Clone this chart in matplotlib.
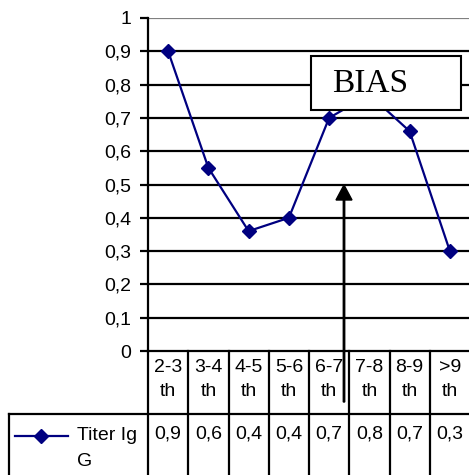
import matplotlib
matplotlib.use("Agg")
import matplotlib.pyplot as plt
from matplotlib.lines import Line2D
from matplotlib.patches import Rectangle, FancyArrow

plt.rcParams['font.family'] = ['Liberation Sans', 'DejaVu Sans']

# titer per age group
categories = ["2-3\nth", "3-4\nth", "4-5\nth", "5-6\nth", "6-7\nth", "7-8\nth", "8-9\nth", ">9\nth"]
titer = [0.90, 0.55, 0.36, 0.40, 0.70, 0.77, 0.66, 0.30]
series_name = "Titer Ig\nG"
yticks = [0, 0.1, 0.2, 0.3, 0.4, 0.5, 0.6, 0.7, 0.8, 0.9, 1.0]

W, H = 469, 475
NAVY = "#000080"
FS = 14


def fx(px):
    return px / W


def fy(py):
    return 1 - py / H


fig = plt.figure(figsize=(W / 100, H / 100), dpi=100)
# plot area in pixel terms: left 148, top 18, bottom 351, runs off the right edge
ax = fig.add_axes([fx(148), fy(351), fx(470) - fx(148), fy(18) - fy(351)])
x = list(range(len(categories)))
ax.set_xlim(-0.5, len(categories) - 0.5)
ax.set_ylim(0, 1)

for v in yticks[1:-1]:
    ax.axhline(v, color="black", lw=1.6, zorder=1)
ax.axhline(1.0, color="#808080", lw=1.6, zorder=1)

ax.plot(x, titer, color=NAVY, lw=1.6, marker="D", ms=7.5, zorder=3)

for s in ("top", "right"):
    ax.spines[s].set_visible(False)
ax.spines["left"].set_linewidth(1.6)
ax.spines["bottom"].set_linewidth(1.6)
ax.set_xticks([])
ax.set_yticks(yticks)
ax.set_yticklabels([f"{v:g}".replace(".", ",") for v in yticks], fontsize=FS)
ax.tick_params(axis="y", length=6, width=1.6, pad=6)

# BIAS box with arrow
fig.patches.append(Rectangle((fx(311), fy(110)), fx(461) - fx(311), fy(56) - fy(110),
                             transform=fig.transFigure, facecolor="white",
                             edgecolor="black", lw=1.5, zorder=5))
fig.text(fx(332), fy(84), "BIAS", family="Liberation Serif", fontsize=24,
         ha="left", va="center", zorder=6)
fig.add_artist(FancyArrow(
    fx(344), fy(402), 0, fy(185) - fy(402), width=0.003, head_width=fx(16),
    head_length=(fy(185) - fy(200)), length_includes_head=True,
    color="black", transform=fig.transFigure, zorder=6))

# data table under the axis
tbl_top, row_split, tbl_bot = 351, 414, 476
col_w = (470 - 148) / len(categories)
edges = [148 + i * col_w for i in range(len(categories) + 1)]
line_kw = dict(color="black", lw=1.6, transform=fig.transFigure)
for e in edges[:-1]:
    fig.add_artist(Line2D([fx(e), fx(e)], [fy(tbl_top), fy(tbl_bot)], **line_kw))
fig.add_artist(Line2D([fx(9), fx(470)], [fy(row_split), fy(row_split)], **line_kw))
fig.add_artist(Line2D([fx(9), fx(9)], [fy(row_split), fy(tbl_bot)], **line_kw))

for i, (cat, v) in enumerate(zip(categories, titer)):
    cx = (edges[i] + edges[i + 1]) / 2
    top, bot = cat.split("\n")
    fig.text(fx(cx), fy(368), top, ha="center", va="center", fontsize=FS)
    fig.text(fx(cx), fy(391), bot, ha="center", va="center", fontsize=FS)
    fig.text(fx(cx), fy(434), f"{v:.1f}".replace(".", ","), ha="center",
             va="center", fontsize=FS)

# legend key in the row header
fig.add_artist(Line2D([fx(15), fx(41), fx(68)], [fy(436)] * 3, color=NAVY, lw=1.6,
                      marker="D", ms=7.5, markevery=[1],
                      transform=fig.transFigure))
name1, name2 = series_name.split("\n")
fig.text(fx(77), fy(436), name1, ha="left", va="center", fontsize=FS)
fig.text(fx(77), fy(461), name2, ha="left", va="center", fontsize=FS)

fig.savefig("out.png", dpi=100)
